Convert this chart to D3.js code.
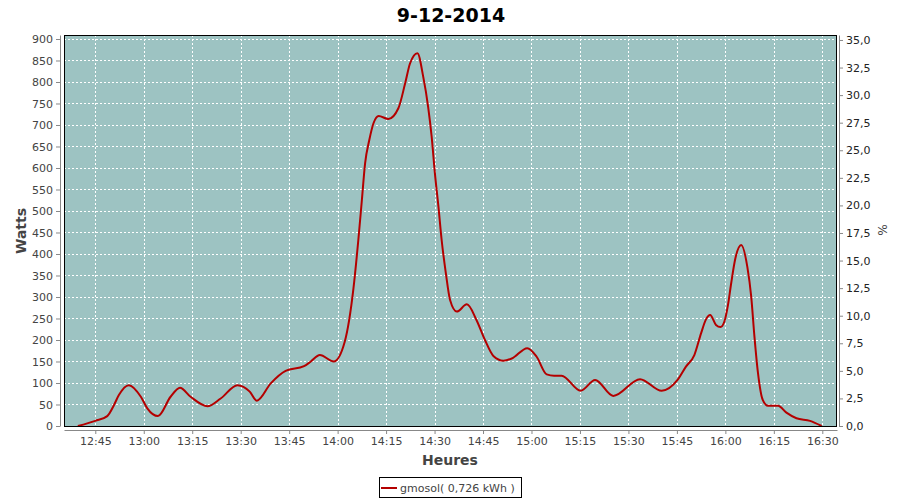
<!DOCTYPE html>
<html><head><meta charset="utf-8">
<script src="https://cdn.jsdelivr.net/npm/d3@7"></script>
<style>
body{margin:0;background:#fff;}
text{font-family:"DejaVu Sans",sans-serif;}
</style></head>
<body><svg id="c" width="900" height="500"></svg>
<script>
const title = "9-12-2014";
const times = ["12:39:36","12:45:00","12:48:42","12:50:48","12:52:18","12:55:24","12:59:06","13:01:06","13:04:24","13:08:18","13:11:12","13:14:30","13:19:42","13:23:48","13:29:00","13:32:48","13:35:00","13:39:18","13:43:54","13:49:36","13:51:42","13:54:30","13:58:48","14:02:12","14:04:54","14:06:24","14:07:30","14:08:30","14:09:48","14:11:06","14:12:42","14:15:42","14:18:48","14:20:54","14:22:24","14:24:42","14:26:30","14:28:00","14:29:06","14:30:06","14:31:12","14:32:12","14:33:30","14:34:48","14:36:54","14:40:00","14:43:00","14:45:36","14:48:12","14:51:18","14:53:54","14:58:42","15:01:36","15:04:42","15:07:00","15:09:18","15:15:12","15:19:42","15:25:18","15:33:36","15:40:18","15:45:12","15:47:48","15:50:24","15:52:30","15:54:00","15:55:18","15:57:06","15:58:30","15:59:42","16:00:48","16:01:48","16:03:06","16:04:54","16:06:48","16:08:00","16:09:00","16:10:06","16:11:36","16:13:12","16:16:18","16:18:54","16:22:00","16:26:12","16:29:48"];
const watts = [0,12,23,49,72,95,68,41,23,68,89,68,46,64,95,80,59,99,128,139,150,165,150,196,320,432,525,611,665,704,721,714,739,797,843,867,812,743,673,588,510,432,355,293,266,283,246,200,163,152,157,181,161,120,117,117,82,107,70,109,82,107,138,165,216,248,258,235,230,243,281,332,390,421,370,301,208,123,60,47,47,31,18,12,0];
const leftTicks = [0,50,100,150,200,250,300,350,400,450,500,550,600,650,700,750,800,850,900];
const rightTicks = [0,2.5,5,7.5,10,12.5,15,17.5,20,22.5,25,27.5,30,32.5,35];
const xTickLabels = ["12:45","13:00","13:15","13:30","13:45","14:00","14:15","14:30","14:45","15:00","15:15","15:30","15:45","16:00","16:15","16:30"];
const seriesName = "gmosol( 0,726 kWh )";
const xDomain = ["12:35:19","16:34:33"];
const leftMax = 909.3, rightMax = 35.45;

const parse = d3.timeParse("%Y-%m-%d %H:%M:%S");
const day = "2014-12-09 ";
const P = s => parse(day + (s.length===5 ? s+":00" : s));
const data = times.map((t,i)=>({t:P(t), v:watts[i]}));

const svg = d3.select("#c");
const L=64, R=837, T=35, B=426;
const x = d3.scaleTime().domain(xDomain.map(P)).range([L,R]);
const y = d3.scaleLinear().domain([0,leftMax]).range([B,T]);
const y2 = d3.scaleLinear().domain([0,rightMax]).range([B,T]);
const xt = xTickLabels.map(P);

svg.append("rect").attr("x",L).attr("y",T).attr("width",R-L).attr("height",B-T).attr("fill","#9dc3c2");
const grid = svg.append("g").attr("stroke","#fff").attr("stroke-width",1).attr("stroke-dasharray","2,2");
grid.selectAll(".v").data(xt).join("line").attr("x1",d=>Math.round(x(d))+0.5).attr("x2",d=>Math.round(x(d))+0.5).attr("y1",T).attr("y2",B);
grid.selectAll(".h").data(leftTicks).join("line").attr("y1",d=>Math.round(y(d))+0.5).attr("y2",d=>Math.round(y(d))+0.5).attr("x1",L).attr("x2",R);

const line = d3.line().x(d=>x(d.t)).y(d=>y(d.v)).curve(d3.curveMonotoneX);
svg.append("path").datum(data).attr("d",line).attr("fill","none").attr("stroke","#b40000").attr("stroke-width",2).attr("stroke-linejoin","round");

svg.append("rect").attr("x",L+0.5).attr("y",T+0.5).attr("width",R-L-1).attr("height",B-T).attr("fill","none").attr("stroke","#000").attr("stroke-width",1);

function style(g){
  g.selectAll(".domain").attr("stroke","#888");
  g.selectAll(".tick line").attr("stroke","#888");
  g.selectAll("text").attr("fill","#444").attr("font-size",11).attr("font-family","DejaVu Sans");
}
const ax = svg.append("g").attr("transform",`translate(0,${B+4})`)
  .call(d3.axisBottom(x).tickValues(xt).tickFormat(d3.timeFormat("%H:%M")).tickSizeOuter(0).tickSizeInner(4).tickPadding(3));
style(ax);
const ay = svg.append("g").attr("transform",`translate(${L-4},0)`)
  .call(d3.axisLeft(y).tickValues(leftTicks).tickSizeOuter(0).tickSizeInner(4).tickPadding(3));
style(ay);
const fmt = d3.format(".1f");
const ay2 = svg.append("g").attr("transform",`translate(${R+2},0)`)
  .call(d3.axisRight(y2).tickValues(rightTicks).tickFormat(d=>fmt(d).replace(".",",")).tickSizeOuter(0).tickSizeInner(4).tickPadding(3));
style(ay2);
ay2.selectAll("text").attr("fill","#222");

svg.append("text").attr("x",451).attr("y",22).attr("text-anchor","middle").attr("font-size",19).attr("font-weight","bold").attr("fill","#000").text(title);
svg.append("text").attr("transform","translate(26,231) rotate(-90)").attr("text-anchor","middle").attr("font-size",14).attr("font-weight","bold").attr("fill","#444").text("Watts");
svg.append("text").attr("transform","translate(878,230) rotate(90)").attr("text-anchor","middle").attr("font-size",12).attr("fill","#444").text("%");
svg.append("text").attr("x",450).attr("y",465).attr("text-anchor","middle").attr("font-size",14).attr("font-weight","bold").attr("fill","#444").text("Heures");

const lg = svg.append("g");
lg.append("rect").attr("x",379.5).attr("y",477.5).attr("width",142).attr("height",20).attr("fill","#fff").attr("stroke","#000");
lg.append("line").attr("x1",381).attr("x2",397).attr("y1",488).attr("y2",488).attr("stroke","#b40000").attr("stroke-width",2);
lg.append("text").attr("x",400).attr("y",492).attr("font-size",11).attr("fill","#444").text(seriesName);
</script></body></html>
